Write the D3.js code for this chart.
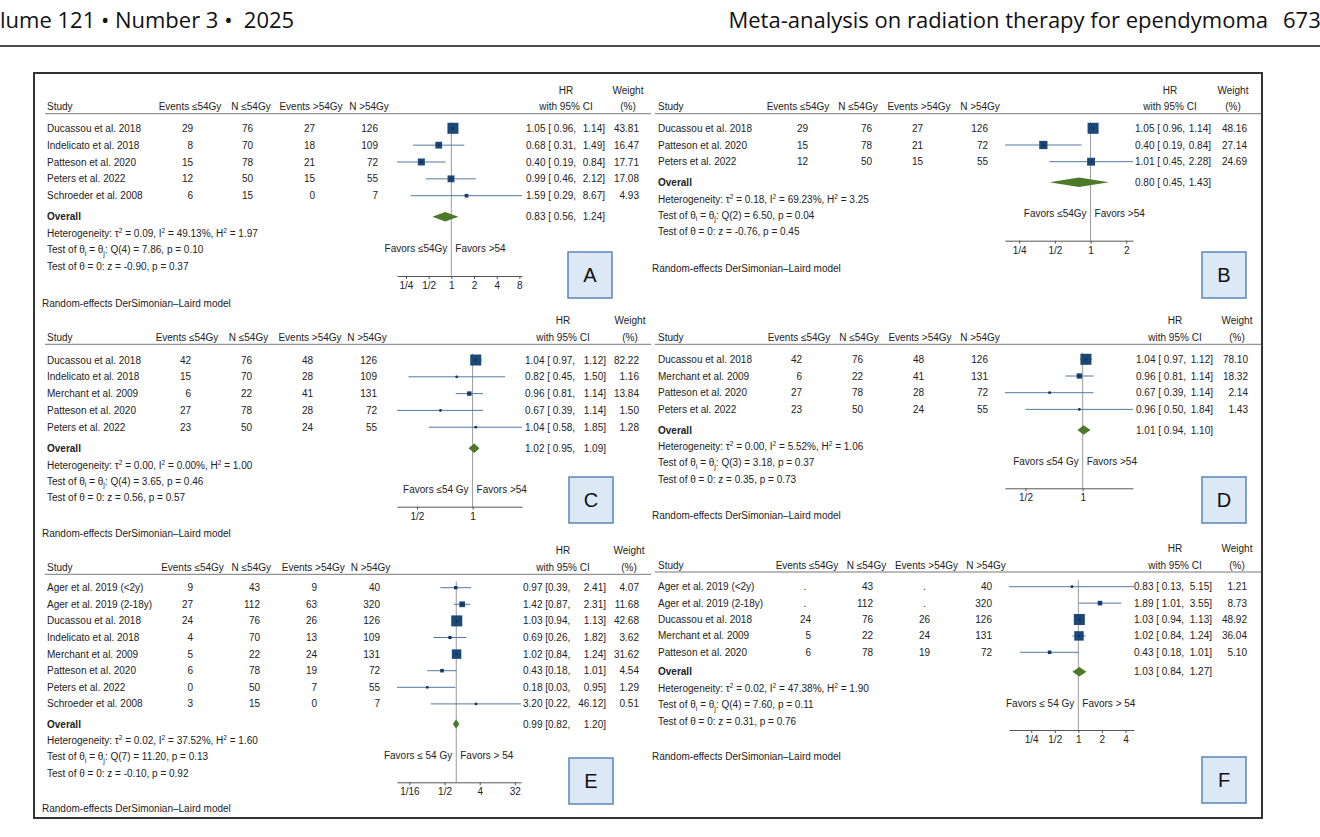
<!DOCTYPE html>
<html><head><meta charset="utf-8">
<script src="https://cdn.jsdelivr.net/npm/d3@7"></script>
<style>
body{margin:0;background:#fff;}
svg{display:block;font-family:"Liberation Sans",Arial,sans-serif;}
</style></head><body>
<svg id="c" width="1320" height="837"></svg>
<script>
// ---------------- DATA ----------------
const colHeaders = ["Events \u226454Gy", "N \u226454Gy", "Events >54Gy", "N >54Gy"];

// Panel A
const aStudies = ["Ducassou et al. 2018", "Indelicato et al. 2018", "Patteson et al. 2020", "Peters et al. 2022", "Schroeder et al. 2008"];
const aEventsLow = [29, 8, 15, 12, 6];
const aNLow = [76, 70, 78, 50, 15];
const aEventsHigh = [27, 18, 21, 15, 0];
const aNHigh = [126, 109, 72, 55, 7];
const aHR = [1.05, 0.68, 0.40, 0.99, 1.59];
const aLo = [0.96, 0.31, 0.19, 0.46, 0.29];
const aHi = [1.14, 1.49, 0.84, 2.12, 8.67];
const aWeight = [43.81, 16.47, 17.71, 17.08, 4.93];
const aOverall = [0.83, 0.56, 1.24];
const aHet = ["0.09", "49.13%", "1.97"];
const aQ = ["4", "7.86", "0.10"];
const aZ = ["-0.90", "0.37"];
const aTicks = [0.25, 0.5, 1, 2, 4, 8];
const aTickLabels = ["1/4", "1/2", "1", "2", "4", "8"];
const aFavors = ["Favors \u226454Gy", "Favors >54"];

// Panel B
const bStudies = ["Ducassou et al. 2018", "Patteson et al. 2020", "Peters et al. 2022"];
const bEventsLow = [29, 15, 12];
const bNLow = [76, 78, 50];
const bEventsHigh = [27, 21, 15];
const bNHigh = [126, 72, 55];
const bHR = [1.05, 0.40, 1.01];
const bLo = [0.96, 0.19, 0.45];
const bHi = [1.14, 0.84, 2.28];
const bWeight = [48.16, 27.14, 24.69];
const bOverall = [0.80, 0.45, 1.43];
const bHet = ["0.18", "69.23%", "3.25"];
const bQ = ["2", "6.50", "0.04"];
const bZ = ["-0.76", "0.45"];
const bTicks = [0.25, 0.5, 1, 2];
const bTickLabels = ["1/4", "1/2", "1", "2"];
const bFavors = ["Favors \u226454Gy", "Favors >54"];

// Panel C
const cStudies = ["Ducassou et al. 2018", "Indelicato et al. 2018", "Merchant et al. 2009", "Patteson et al. 2020", "Peters et al. 2022"];
const cEventsLow = [42, 15, 6, 27, 23];
const cNLow = [76, 70, 22, 78, 50];
const cEventsHigh = [48, 28, 41, 28, 24];
const cNHigh = [126, 109, 131, 72, 55];
const cHR = [1.04, 0.82, 0.96, 0.67, 1.04];
const cLo = [0.97, 0.45, 0.81, 0.39, 0.58];
const cHi = [1.12, 1.50, 1.14, 1.14, 1.85];
const cWeight = [82.22, 1.16, 13.84, 1.50, 1.28];
const cOverall = [1.02, 0.95, 1.09];
const cHet = ["0.00", "0.00%", "1.00"];
const cQ = ["4", "3.65", "0.46"];
const cZ = ["0.56", "0.57"];
const cTicks = [0.5, 1];
const cTickLabels = ["1/2", "1"];
const cFavors = ["Favors \u226454 Gy", "Favors >54"];

// Panel D
const dStudies = ["Ducassou et al. 2018", "Merchant et al. 2009", "Patteson et al. 2020", "Peters et al. 2022"];
const dEventsLow = [42, 6, 27, 23];
const dNLow = [76, 22, 78, 50];
const dEventsHigh = [48, 41, 28, 24];
const dNHigh = [126, 131, 72, 55];
const dHR = [1.04, 0.96, 0.67, 0.96];
const dLo = [0.97, 0.81, 0.39, 0.50];
const dHi = [1.12, 1.14, 1.14, 1.84];
const dWeight = [78.10, 18.32, 2.14, 1.43];
const dOverall = [1.01, 0.94, 1.10];
const dHet = ["0.00", "5.52%", "1.06"];
const dQ = ["3", "3.18", "0.37"];
const dZ = ["0.35", "0.73"];
const dTicks = [0.5, 1];
const dTickLabels = ["1/2", "1"];
const dFavors = ["Favors \u226454 Gy", "Favors >54"];

// Panel E
const eStudies = ["Ager et al. 2019 (<2y)", "Ager et al. 2019 (2-18y)", "Ducassou et al. 2018", "Indelicato et al. 2018", "Merchant et al. 2009", "Patteson et al. 2020", "Peters et al. 2022", "Schroeder et al. 2008"];
const eEventsLow = [9, 27, 24, 4, 5, 6, 0, 3];
const eNLow = [43, 112, 76, 70, 22, 78, 50, 15];
const eEventsHigh = [9, 63, 26, 13, 24, 19, 7, 0];
const eNHigh = [40, 320, 126, 109, 131, 72, 55, 7];
const eHR = [0.97, 1.42, 1.03, 0.69, 1.02, 0.43, 0.18, 3.20];
const eLo = [0.39, 0.87, 0.94, 0.26, 0.84, 0.18, 0.03, 0.22];
const eHi = [2.41, 2.31, 1.13, 1.82, 1.24, 1.01, 0.95, 46.12];
const eWeight = [4.07, 11.68, 42.68, 3.62, 31.62, 4.54, 1.29, 0.51];
const eOverall = [0.99, 0.82, 1.20];
const eHet = ["0.02", "37.52%", "1.60"];
const eQ = ["7", "11.20", "0.13"];
const eZ = ["-0.10", "0.92"];
const eTicks = [1/16, 0.5, 4, 32];
const eTickLabels = ["1/16", "1/2", "4", "32"];
const eFavors = ["Favors \u2264 54 Gy", "Favors > 54"];

// Panel F
const fStudies = ["Ager et al. 2019 (<2y)", "Ager et al. 2019 (2-18y)", "Ducassou et al. 2018", "Merchant et al. 2009", "Patteson et al. 2020"];
const fEventsLow = [null, null, 24, 5, 6];
const fNLow = [43, 112, 76, 22, 78];
const fEventsHigh = [null, null, 26, 24, 19];
const fNHigh = [40, 320, 126, 131, 72];
const fHR = [0.83, 1.89, 1.03, 1.02, 0.43];
const fLo = [0.13, 1.01, 0.94, 0.84, 0.18];
const fHi = [5.15, 3.55, 1.13, 1.24, 1.01];
const fWeight = [1.21, 8.73, 48.92, 36.04, 5.10];
const fOverall = [1.03, 0.84, 1.27];
const fHet = ["0.02", "47.38%", "1.90"];
const fQ = ["4", "7.60", "0.11"];
const fZ = ["0.31", "0.76"];
const fTicks = [0.25, 0.5, 1, 2, 4];
const fTickLabels = ["1/4", "1/2", "1", "2", "4"];
const fFavors = ["Favors \u2264 54 Gy", "Favors > 54"];

const modelNote = "Random-effects DerSimonian\u2013Laird model";

// ---------------- LAYOUT ----------------
const panels = [
  {id:"A", studies:aStudies, cols:[aEventsLow,aNLow,aEventsHigh,aNHigh], hr:aHR, lo:aLo, hi:aHi, w:aWeight, overall:aOverall, het:aHet, q:aQ, z:aZ, ticks:aTicks, tickLabels:aTickLabels, favors:aFavors,
   L:{studyX:47, headY:106.7, colHead:[190,251,311,369], colVal:[193,253,315,378], hrHead:566, wHead:628, hrStart:526, hrEnd:605, wEnd:639, lineX:[45,651], row1:128.3, rowGap:16.85, overallY:216.7, axisY:276, favY:248.3, range:[397,522], reX:42, reY:303, box:[568,252], pad:" "}},
  {id:"B", studies:bStudies, cols:[bEventsLow,bNLow,bEventsHigh,bNHigh], hr:bHR, lo:bLo, hi:bHi, w:bWeight, overall:bOverall, het:bHet, q:bQ, z:bZ, ticks:bTicks, tickLabels:bTickLabels, favors:bFavors,
   L:{studyX:658, headY:106.7, colHead:[798,858,919,980], colVal:[808,872,923,988], hrHead:1170, wHead:1233, hrStart:1135, hrEnd:1211, wEnd:1247, lineX:[655,1261], row1:128.3, rowGap:16.7, overallY:182.3, axisY:240.7, favY:213.3, range:[1005,1133], reX:652, reY:268.3, box:[1202,252], pad:" "}},
  {id:"C", studies:cStudies, cols:[cEventsLow,cNLow,cEventsHigh,cNHigh], hr:cHR, lo:cLo, hi:cHi, w:cWeight, overall:cOverall, het:cHet, q:cQ, z:cZ, ticks:cTicks, tickLabels:cTickLabels, favors:cFavors,
   L:{studyX:47, headY:337.3, colHead:[187,248.5,310,367], colVal:[191,252,313,377], hrHead:563, wHead:630, hrStart:525, hrEnd:606, wEnd:639, lineX:[45,651], row1:360, rowGap:16.8, overallY:448.3, axisY:506.7, favY:489.3, range:[397,522], reX:42, reY:533, box:[569,477], pad:" "}},
  {id:"D", studies:dStudies, cols:[dEventsLow,dNLow,dEventsHigh,dNHigh], hr:dHR, lo:dLo, hi:dHi, w:dWeight, overall:dOverall, het:dHet, q:dQ, z:dZ, ticks:dTicks, tickLabels:dTickLabels, favors:dFavors,
   L:{studyX:658, headY:337.3, colHead:[799,859,920,980], colVal:[802,863,924,988], hrHead:1175, wHead:1237, hrStart:1136, hrEnd:1213, wEnd:1248, lineX:[655,1261], row1:359.3, rowGap:16.7, overallY:430, axisY:488.3, favY:461, range:[1005,1133], reX:652, reY:515.7, box:[1202,477], pad:" "}},
  {id:"E", studies:eStudies, cols:[eEventsLow,eNLow,eEventsHigh,eNHigh], hr:eHR, lo:eLo, hi:eHi, w:eWeight, overall:eOverall, het:eHet, q:eQ, z:eZ, ticks:eTicks, tickLabels:eTickLabels, favors:eFavors,
   L:{studyX:47, headY:567.3, colHead:[192.5,251.3,313.3,370.5], colVal:[193,260,317,380], hrHead:563, wHead:629, hrStart:523, hrEnd:606, wEnd:639, lineX:[45,651], row1:587.7, rowGap:16.6, overallY:724, axisY:782.3, favY:755, range:[397,521], reX:42, reY:808, box:[569,758], pad:""}},
  {id:"F", studies:fStudies, cols:[fEventsLow,fNLow,fEventsHigh,fNHigh], hr:fHR, lo:fLo, hi:fHi, w:fWeight, overall:fOverall, het:fHet, q:fQ, z:fZ, ticks:fTicks, tickLabels:fTickLabels, favors:fFavors,
   L:{studyX:658, headY:565, colHead:[807,866.5,926.5,986], colVal:[811,873,930,992], hrHead:1175, wHead:1237, hrStart:1134, hrEnd:1212, wEnd:1247, lineX:[655,1261], row1:586.7, rowGap:16.4, overallY:671.7, axisY:730, favY:703.3, range:[1009,1134], reX:652, reY:756.7, box:[1202,757], pad:" "}}
];

const TXT = "#222";
const NAVY = "#1c4878";
const CI = "#54789f";
const GREEN = "#4d7a29";
const FS = 10;

const svg = d3.select("#c");
svg.append("rect").attr("width",1320).attr("height",837).attr("fill","#fff");

// page header
const HF = "'Open Sans',sans-serif";
svg.append("text").attr("x",0).attr("y",28).attr("font-family",HF).attr("font-size",22).attr("fill","#111")
  .attr("xml:space","preserve").text("lume 121 \u2022 Number 3 \u2022  2025");
svg.append("text").attr("x",1268).attr("y",28).attr("text-anchor","end").attr("font-family",HF).attr("font-size",22).attr("fill","#111")
  .text("Meta-analysis on radiation therapy for ependymoma");
svg.append("text").attr("x",1283).attr("y",28).attr("font-family",HF).attr("font-size",22).attr("fill","#111").text("673");
svg.append("line").attr("x1",0).attr("x2",1320).attr("y1",46).attr("y2",46).attr("stroke","#111").attr("stroke-width",1.5);

// frame
svg.append("rect").attr("x",34).attr("y",73).attr("width",1228).attr("height",745).attr("fill","none").attr("stroke","#333").attr("stroke-width",2);

const fmt = d3.format(".2f");

function drawPanel(p) {
  const L = p.L;
  const g = svg.append("g");
  const T = (x, y, s, anchor) => g.append("text").attr("x",x).attr("y",y).attr("dy","0.35em")
      .attr("text-anchor",anchor||"start").attr("font-size",FS).attr("fill",TXT).text(s);

  // headers
  T(L.studyX, L.headY, "Study");
  colHeaders.forEach((h,i) => T(L.colHead[i], L.headY, h, "middle"));
  T(L.hrHead, L.headY-16.5, "HR", "middle");
  T(L.hrHead, L.headY, "with 95% CI", "middle");
  T(L.wHead, L.headY-16.5, "Weight", "middle");
  T(L.wHead, L.headY, "(%)", "middle");
  g.append("line").attr("x1",L.lineX[0]).attr("x2",L.lineX[1]).attr("y1",L.headY+7).attr("y2",L.headY+7)
    .attr("stroke","#777").attr("stroke-width",1);

  const x = d3.scaleLog().domain(d3.extent(p.lo.concat(p.hi))).range(L.range);
  const yRow = i => L.row1 + i*L.rowGap;
  const size = d3.scaleSqrt().domain([0, d3.max(p.w)]).range([0, 11]);

  // null line
  g.append("line").attr("x1",x(1)).attr("x2",x(1)).attr("y1",L.row1-6.5).attr("y2",L.axisY)
    .attr("stroke","#9a9a9a").attr("stroke-width",1);

  // axis
  const ax = g.append("g").attr("transform",`translate(0,${L.axisY})`)
    .call(d3.axisBottom(x).tickValues(p.ticks).tickFormat((d,i)=>p.tickLabels[i]).tickSize(3).tickSizeOuter(0).tickPadding(3));
  ax.selectAll("path,line").attr("stroke","#555");
  ax.selectAll("text").attr("font-size",FS).attr("font-family","'Liberation Sans',Arial,sans-serif").attr("fill",TXT);

  // favors
  T(x(1)-4, L.favY, p.favors[0], "end");
  T(x(1)+4, L.favY, p.favors[1], "start");

  // rows
  p.studies.forEach((s,i) => {
    const y = yRow(i);
    T(L.studyX, y, s);
    p.cols.forEach((col,j) => {
      const v = col[i];
      if (v === null) T(L.colHead[j]-2, y, ".", "middle");
      else T(L.colVal[j], y, String(v), "end");
    });
    g.append("line").attr("x1",x(p.lo[i])).attr("x2",x(p.hi[i])).attr("y1",y).attr("y2",y)
      .attr("stroke",CI).attr("stroke-width",1);
    const sz = size(p.w[i]);
    g.append("rect").attr("x",x(p.hr[i])-sz/2).attr("y",y-sz/2).attr("width",sz).attr("height",sz).attr("fill",NAVY);
    g.append("circle").attr("cx",x(p.hr[i])).attr("cy",y).attr("r",1.4).attr("fill","#15365c");
    T(L.hrStart, y, `${fmt(p.hr[i])} [${L.pad}${fmt(p.lo[i])},`, "start");
    T(L.hrEnd, y, `${fmt(p.hi[i])}]`, "end");
    T(L.wEnd, y, fmt(p.w[i]), "end");
  });

  // overall
  const oy = L.overallY;
  g.append("text").attr("x",L.studyX).attr("y",oy).attr("dy","0.35em").attr("font-size",FS).attr("font-weight","bold").attr("fill",TXT).text("Overall");
  const [oh, ol, ou] = p.overall;
  g.append("polygon").attr("points",[[x(ol),oy],[x(oh),oy-4.8],[x(ou),oy],[x(oh),oy+4.8]].map(d=>d.join(",")).join(" "))
    .attr("fill",GREEN);
  T(L.hrStart, oy, `${fmt(oh)} [${L.pad}${fmt(ol)},`, "start");
  T(L.hrEnd, oy, `${fmt(ou)}]`, "end");

  // stats lines
  const rich = (y, parts) => {
    const t = g.append("text").attr("x",L.studyX).attr("y",y+3.5).attr("font-size",FS).attr("fill",TXT);
    parts.forEach(pt => {
      const ts = t.append("tspan").text(pt[0]);
      if (pt[1] === "sup") ts.attr("font-size",6.5).attr("dy",-4);
      else if (pt[1] === "sub") ts.attr("font-size",7).attr("dy",2.5);
      else if (pt[1]) ts.attr("dy",pt[1]);
    });
  };
  rich(oy+16.8, [["Heterogeneity: \u03c4"],["2","sup"],[` = ${p.het[0]}, I`,4],["2","sup"],[` = ${p.het[1]}, H`,4],["2","sup"],[` = ${p.het[2]}`,4]]);
  rich(oy+32.8, [["Test of \u03b8"],["i","sub"],[" = \u03b8",-2.5],["j","sub"],[`: Q(${p.q[0]}) = ${p.q[1]}, p = ${p.q[2]}`,-2.5]]);
  rich(oy+49.5, [[`Test of \u03b8 = 0: z = ${p.z[0]}, p = ${p.z[1]}`]]);

  T(L.reX, L.reY, modelNote);

  // label box
  g.append("rect").attr("x",L.box[0]).attr("y",L.box[1]).attr("width",44).attr("height",46)
    .attr("fill","#dce8f5").attr("stroke","#5b86b8").attr("stroke-width",1.5);
  g.append("text").attr("x",L.box[0]+22).attr("y",L.box[1]+23).attr("dy","0.36em").attr("text-anchor","middle")
    .attr("font-size",20).attr("fill","#111").text(p.id);
}

panels.forEach(drawPanel);
</script>
</body></html>
